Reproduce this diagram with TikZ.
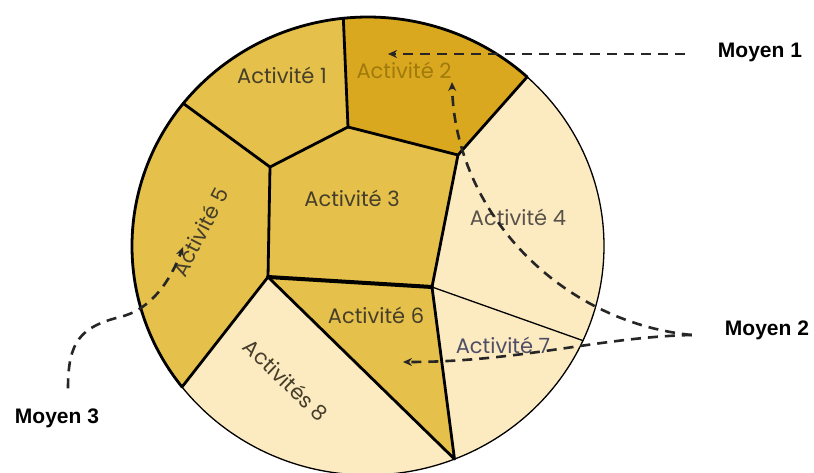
\documentclass[tikz,border=0pt]{standalone}
\usepackage{fontspec}
\setmainfont{Poppins}
\newfontfamily\moyenfont{Liberation Sans}
\usetikzlibrary{arrows.meta,calc}
\definecolor{goldA}{HTML}{E5C04B}
\definecolor{goldB}{HTML}{D9A81E}
\definecolor{creamA}{HTML}{FCEAC0}
\definecolor{txtA}{HTML}{453E2A}
\definecolor{txtB}{HTML}{A07A0C}
\definecolor{txtC}{HTML}{58524A}
\definecolor{txtD}{HTML}{4E4E68}
\begin{document}
\begin{tikzpicture}[x=1pt,y=1pt,
  act/.style={inner sep=0pt,font=\fontsize{21}{23}\selectfont},
  moyen/.style={inner sep=0pt,font=\moyenfont\bfseries\fontsize{21}{23}\selectfont},
  thickln/.style={line width=2.8pt,line join=round,line cap=round},
  thinln/.style={line width=1.3pt},
  dashline/.style={line width=2.6pt,dash pattern=on 10pt off 7pt,draw=black!85,
    -{Stealth[length=9pt,width=8pt]}},
  ell/.style={x radius=236,y radius=229}]
\useasboundingbox (0,0) rectangle (814,472);
\fill[white] (0,0) rectangle (814,472);
\coordinate (C) at (368,226);
\coordinate (P1) at ({368+236*cos(96)},{226+229*sin(96)});
\coordinate (P2) at ({368+236*cos(47.6)},{226+229*sin(47.6)});
\coordinate (P3) at ({368+236*cos(141.5)},{226+229*sin(141.5)});
\coordinate (P4) at ({368+236*cos(218)},{226+229*sin(218)});
\coordinate (P5) at ({368+236*cos(-68.5)},{226+229*sin(-68.5)});
\coordinate (P6) at ({368+236*cos(-24.4)},{226+229*sin(-24.4)});
\coordinate (J1) at (348,345);
\coordinate (J2) at (270,305);
\coordinate (J3) at (458,317);
\coordinate (J4) at (432,185);
\coordinate (J5) at (268,195);
% regions
\fill[goldA] (P3) arc[start angle=141.5,end angle=96,ell] -- (J1) -- (J2) -- cycle;
\fill[goldB] (P1) arc[start angle=96,end angle=47.6,ell] -- (J3) -- (J1) -- cycle;
\fill[goldA] (J2) -- (J1) -- (J3) -- (J4) -- (J5) -- cycle;
\fill[creamA] (P2) arc[start angle=47.6,end angle=-24.4,ell] -- (J4) -- (J3) -- cycle;
\fill[goldA] (P4) arc[start angle=218,end angle=141.5,ell] -- (J2) -- (J5) -- cycle;
\fill[goldA] (J5) -- (J4) -- (P5) -- cycle;
\fill[creamA] (J4) -- (P6) arc[start angle=-24.4,end angle=-68.5,ell] -- cycle;
\fill[creamA] (J5) -- (P5) arc[start angle=-68.5,end angle=-142,ell] -- cycle;
% borders
\draw[thinln] (C) ellipse[ell];
\draw[thickln] (P4) arc[start angle=218,end angle=47.6,ell];
\draw[thickln] (P3) -- (J2) -- (J1) -- (P1);
\draw[thickln] (J1) -- (J3) -- (P2);
\draw[thickln] (J2) -- (J5) -- (P4);
\draw[thickln] (J3) -- (J4);
\draw[thickln] (J5) -- (P5) -- (J4);
\draw[line width=4pt,line cap=round] (J5) -- (J4);
\draw[thinln] (J4) -- (P6);
% activity labels
\node[act,text=txtA] (a1) at (282,397) {Activité 1};
\node[act,text=txtB] (a2) at (404,402) {Activité 2};
\node[act,text=txtA] (a3) at (352,274) {Activité 3};
\node[act,text=txtC] (a4) at (518,255) {Activité 4};
\node[act,text=txtA,rotate=62.5] (a5) at (200,240) {Activité 5};
\node[act,text=txtA] (a6) at (376,157) {Activité 6};
\node[act,text=txtD] (a7) at (503,127) {Activité 7};
\node[act,text=txtA,rotate=-44] (a8) at (286,92) {Activités 8};
% moyens
\node[moyen] (m1) at (760,420) {Moyen 1};
\node[moyen] (m2) at (767,142) {Moyen 2};
\node[moyen] (m3) at (57,54) {Moyen 3};
\coordinate (t1) at (388,418);
\coordinate (t2) at (452,390);
\coordinate (t3) at (403,110);
\coordinate (t5) at (183,225);
\coordinate (s2) at ($(m2.west)+(-33,-5)$);
\draw[dashline] ($(m1.west)+(-33,-2)$) -- (t1);
\draw[dashline] (s2) .. controls (560,150) and (455,260) .. (t2);
\draw[dashline] (s2) .. controls (600,135) and (520,110) .. (t3);
\draw[dashline] ($(m3.north)+(11,20)$) .. controls (68,130) and (80,145) .. (120,155)
   .. controls (150,162) and (170,190) .. (t5);
\end{tikzpicture}
\end{document}
